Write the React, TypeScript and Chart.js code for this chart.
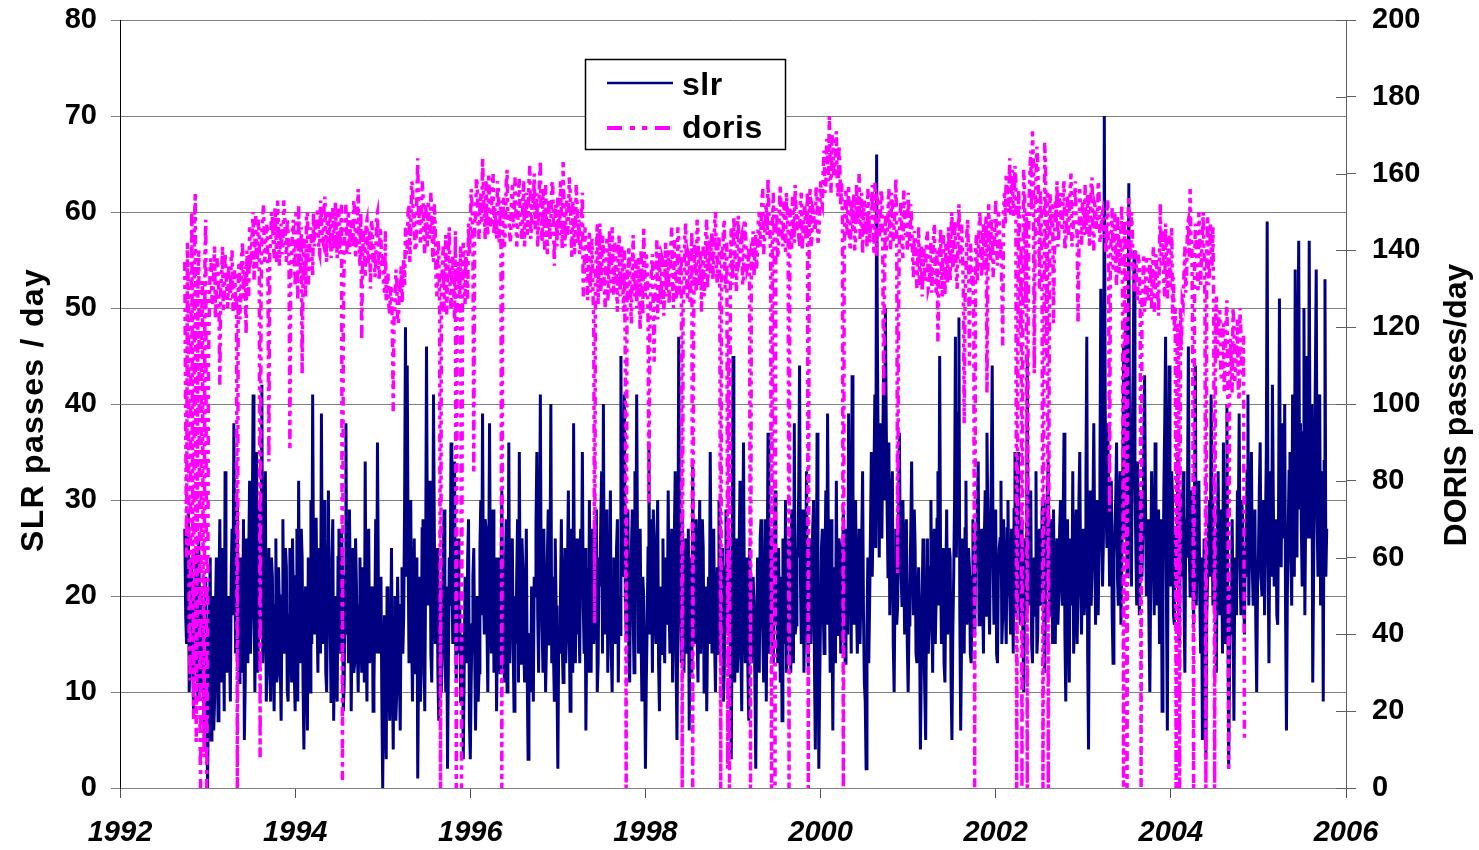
import { useEffect, useRef } from 'react';
import { Chart, registerables } from 'chart.js';

Chart.register(...registerables);

// Sampling of the series (decimal years). "Mid" arrays hold the samples taken half a step later.
const sampleStartYear = 1992.74;
const sampleStepYears = 0.02;

// SLR passes per day (left axis)
const slrPasses = [
  27, 15, 29, 13, 24, 8, 21, 14, 26, 10, 19, 6, 22, 0, 17, 5, 20, 9, 24, 7, 28, 11, 19, 33, 12,
  20, 9, 27, 38, 14, 30, 11, 24, 16, 5, 26, 13, 32, 18, 41, 10, 35, 15, 28, 42, 17, 33, 12, 25, 9,
  22, 8, 26, 12, 19, 7, 28, 14, 23, 9, 25, 11, 20, 8, 27, 32, 13, 24, 4, 21, 6, 18, 30, 41, 16,
  28, 12, 22, 39, 15, 26, 10, 31, 17, 24, 7, 20, 9, 27, 14, 23, 11, 38, 19, 29, 8, 25, 13, 21, 10,
  24, 12, 19, 34, 9, 27, 15, 21, 11, 28, 36, 14, 22, 0, 18, 3, 16, 7, 25, 4, 20, 10, 17, 6, 23,
  18, 48, 44, 13, 30, 9, 26, 16, 1, 22, 12, 28, 8, 46, 19, 32, 11, 41, 15, 25, 7, 21, 14, 29, 10,
  2, 24, 36, 15, 34, 11, 26, 19, 9, 3, 22, 13, 28, 3, 17, 25, 6, 20, 12, 30, 39, 16, 27, 10, 38,
  14, 29, 18, 8, 24, 12, 31, 17, 22, 10, 36, 19, 26, 8, 15, 28, 35, 13, 23, 11, 27, 3, 16, 21, 9,
  20, 35, 12, 41, 17, 27, 10, 24, 15, 40, 22, 9, 19, 2, 14, 28, 11, 25, 16, 31, 8, 21, 38, 13, 26,
  18, 27, 35, 14, 6, 23, 30, 12, 25, 17, 29, 13, 21, 33, 40, 16, 27, 19, 31, 10, 24, 15, 28, 20, 45,
  22, 41, 16, 29, 11, 25, 18, 33, 41, 14, 27, 9, 20, 2, 17, 36, 28, 12, 24, 15, 30, 8, 19, 26, 13,
  23, 31, 14, 27, 18, 33, 5, 47, 20, 29, 12, 26, 17, 6, 24, 34, 15, 28, 11, 30, 19, 25, 13, 8, 22,
  35, 14, 27, 10, 23, 30, 16, 25, 12, 29, 18, 21, 3, 45, 11, 26, 15, 32, 8, 36, 13, 24, 7, 20, 17,
  19, 2, 24, 12, 28, 16, 22, 9, 37, 18, 27, 13, 31, 20, 25, 11, 7, 23, 30, 15, 26, 12, 21, 38, 17,
  24, 44, 15, 29, 19, 33, 12, 26, 21, 30, 4, 37, 2, 18, 27, 14, 31, 39, 20, 28, 6, 23, 32, 16, 25,
  18, 29, 13, 25, 39, 22, 43, 17, 30, 14, 27, 20, 33, 11, 2, 24, 19, 35, 28, 41, 66, 32, 38, 26, 44,
  50, 29, 36, 24, 33, 10, 27, 19, 37, 22, 30, 16, 28, 10, 21, 34, 18, 25, 13, 23, 4, 20, 15, 5, 26,
  17, 30, 12, 27, 20, 33, 45, 15, 25, 11, 29, 18, 24, 5, 22, 47, 31, 49, 6, 26, 14, 32, 19, 23, 13,
  28, 16, 24, 34, 19, 27, 14, 31, 37, 21, 26, 44, 17, 29, 13, 25, 32, 18, 23, 15, 30, 20, 27, 14, 35,
  22, 35, 17, 28, 10, 26, 45, 19, 31, 13, 24, 33, 16, 27, 21, 30, 12, 25, 34, 18, 23, 29, 15, 26, 20,
  30, 19, 37, 9, 28, 11, 24, 33, 18, 29, 22, 35, 16, 27, 20, 47, 4, 31, 23, 38, 17, 30, 25, 52, 21,
  70, 29, 38, 21, 32, 13, 27, 36, 19, 33, 24, 46, 49, 22, 63, 30, 37, 56, 25, 34, 18, 31, 27, 43, 20,
  28, 10, 33, 24, 36, 19, 29, 22, 8, 31, 47, 6, 44, 21, 30, 17, 27, 35, 15, 26, 33, 12, 24, 46, 20,
  29, 17, 44, 25, 32, 14, 5, 26, 3, 22, 30, 41, 19, 27, 12, 33, 18, 24, 36, 15, 40, 2, 21, 28, 7,
  24, 31, 39, 18, 28, 16, 22, 41, 26, 35, 19, 29, 10, 24, 36, 20, 30, 27, 59, 13, 33, 42, 21, 28, 17,
  51, 23, 32, 40, 6, 27, 35, 19, 30, 54, 24, 57, 38, 21, 50, 29, 44, 57, 26, 11, 34, 54, 22, 41, 28,
  9, 53, 27,
];

const slrPassesMid = [
  18, 22, 10, 20, 14, 17, 25, 9, 16, 21, 12, 15, 7, 11, 24, 13, 6, 18, 14, 21, 16, 25, 8, 20, 17,
  15, 22, 18, 25, 21, 16, 19, 12, 28, 11, 20, 24, 14, 27, 23, 19, 12, 29, 17, 13, 26, 9, 21, 14, 24,
  14, 19, 11, 23, 13, 20, 17, 25, 10, 18, 15, 26, 12, 22, 9, 16, 27, 11, 19, 13, 24, 10, 15, 22, 28,
  18, 25, 14, 21, 30, 12, 19, 16, 9, 28, 15, 11, 24, 19, 27, 8, 22, 16, 13, 21, 17, 12, 26, 15, 19,
  17, 23, 11, 15, 26, 13, 20, 8, 18, 14, 22, 17, 9, 12, 8, 21, 11, 14, 12, 17, 7, 22, 12, 19, 14,
  30, 22, 25, 19, 16, 20, 12, 24, 14, 9, 27, 17, 22, 25, 30, 14, 21, 26, 20, 12, 18, 10, 23, 16, 21,
  13, 19, 22, 27, 17, 20, 14, 9, 16, 12, 18, 24, 7, 11, 22, 14, 13, 9, 25, 18, 21, 28, 17, 22, 20,
  21, 12, 24, 17, 15, 21, 19, 11, 28, 16, 13, 21, 14, 20, 22, 11, 18, 26, 15, 19, 12, 16, 10, 14, 22,
  27, 18, 23, 21, 12, 19, 15, 29, 22, 13, 14, 26, 11, 16, 20, 15, 19, 13, 23, 17, 27, 12, 18, 25, 16,
  13, 21, 19, 25, 16, 12, 18, 27, 15, 21, 10, 24, 28, 14, 19, 29, 12, 22, 14, 20, 17, 25, 11, 16, 23,
  30, 20, 23, 14, 21, 29, 12, 20, 24, 19, 16, 22, 14, 11, 25, 16, 21, 29, 18, 26, 13, 21, 14, 17, 24,
  17, 19, 23, 11, 26, 13, 18, 24, 13, 16, 21, 14, 27, 20, 12, 19, 25, 16, 23, 14, 28, 10, 21, 17, 15,
  22, 20, 15, 19, 14, 18, 21, 9, 23, 16, 27, 13, 17, 21, 19, 12, 25, 14, 24, 19, 17, 12, 25, 13, 22,
  11, 15, 18, 26, 20, 11, 28, 21, 14, 23, 16, 24, 17, 13, 18, 22, 26, 15, 12, 24, 19, 29, 13, 16, 25,
  31, 22, 26, 12, 24, 17, 22, 15, 27, 13, 16, 20, 11, 25, 19, 23, 17, 24, 12, 18, 21, 13, 19, 26, 14,
  23, 20, 27, 16, 28, 14, 31, 24, 19, 21, 15, 26, 18, 9, 17, 13, 27, 22, 33, 25, 45, 24, 29, 36, 30,
  38, 22, 18, 30, 15, 21, 17, 28, 25, 19, 23, 26, 15, 17, 27, 22, 29, 14, 20, 17, 12, 26, 10, 19, 14,
  23, 18, 26, 15, 28, 19, 24, 20, 13, 21, 16, 25, 11, 16, 30, 24, 39, 18, 15, 21, 27, 17, 25, 14, 22,
  19, 23, 29, 17, 25, 20, 26, 18, 28, 16, 33, 24, 27, 14, 22, 26, 15, 28, 19, 27, 21, 16, 24, 29, 18,
  29, 20, 24, 16, 21, 18, 27, 25, 15, 22, 18, 14, 26, 19, 29, 17, 22, 31, 20, 28, 15, 19, 24, 17, 27,
  22, 28, 16, 23, 18, 26, 19, 14, 27, 15, 30, 21, 25, 18, 32, 14, 23, 19, 29, 26, 24, 18, 33, 28, 26,
  40, 25, 30, 27, 18, 24, 30, 22, 28, 17, 31, 26, 35, 41, 28, 21, 44, 32, 19, 27, 24, 22, 35, 30, 25,
  17, 22, 27, 18, 30, 25, 15, 28, 20, 38, 19, 29, 24, 33, 18, 26, 21, 16, 31, 22, 19, 28, 30, 25, 31,
  22, 31, 19, 28, 20, 24, 16, 12, 18, 27, 22, 30, 24, 17, 26, 21, 29, 14, 25, 31, 20, 12, 16, 19, 23,
  18, 27, 23, 30, 21, 25, 33, 19, 29, 23, 27, 17, 21, 31, 22, 26, 18, 35, 24, 28, 22, 30, 25, 18, 29,
  30, 38, 26, 18, 20, 33, 24, 41, 22, 35, 43, 29, 27, 37, 18, 45, 26, 32, 40, 22, 43, 28, 36, 19, 33,
  34, 22,
];

// DORIS passes per day (right axis)
const dorisPasses = [
  137, 60, 128, 28, 150, 18, 155, 45, 140, 0, 132, 8, 148, 30, 125, 138, 126, 141, 129, 135, 105, 133, 124, 139, 130,
  136, 127, 140, 130, 125, 0, 137, 129, 142, 133, 118, 131, 146, 138, 150, 141, 135, 148, 8, 144, 152, 139, 147, 85, 142,
  149, 138, 145, 153, 136, 147, 141, 150, 137, 144, 88, 139, 148, 131, 145, 152, 134, 108, 143, 128, 150, 137, 146, 133, 141,
  144, 151, 139, 148, 142, 154, 137, 147, 150, 141, 146, 153, 138, 149, 143, 2, 140, 152, 145, 139, 148, 141, 150, 144, 156,
  136, 117, 145, 133, 148, 139, 130, 146, 141, 135, 150, 132, 143, 138, 129, 127, 134, 123, 131, 98, 125, 133, 121, 129, 126,
  138, 146, 141, 152, 144, 157, 149, 140, 164, 151, 145, 155, 139, 148, 153, 143, 150, 137, 146, 128, 140, 0, 135, 124, 144,
  131, 146, 125, 139, 122, 0, 137, 128, 0, 142, 126, 134, 147, 145, 152, 82, 148, 157, 143, 155, 164, 149, 158, 144, 153,
  147, 160, 151, 143, 156, 149, 0, 154, 145, 161, 150, 142, 157, 148, 153, 144, 159, 146, 152, 141, 155, 149, 162, 147, 151,
  145, 155, 148, 163, 142, 152, 157, 139, 150, 146, 158, 136, 151, 154, 144, 149, 163, 141, 153, 147, 156, 138, 150, 145, 152,
  148, 141, 155, 133, 142, 127, 145, 136, 130, 43, 139, 126, 147, 134, 140, 125, 143, 131, 137, 146, 128, 138, 124, 144, 135,
  132, 140, 0, 127, 136, 121, 144, 130, 125, 138, 119, 133, 146, 128, 135, 74, 129, 139, 111, 134, 122, 141, 126, 137, 131,
  128, 140, 134, 146, 125, 139, 131, 143, 136, 0, 130, 147, 127, 138, 133, 0, 142, 129, 145, 135, 124, 141, 132, 148, 137,
  134, 145, 139, 150, 131, 143, 0, 137, 148, 133, 5, 0, 146, 136, 142, 129, 149, 138, 144, 132, 147, 135, 141, 0, 138,
  133, 144, 140, 150, 146, 156, 143, 152, 159, 147, 0, 155, 0, 149, 141, 157, 145, 153, 139, 150, 0, 146, 154, 142, 151,
  149, 141, 155, 145, 152, 147, 0, 156, 143, 150, 146, 154, 144, 158, 152, 166, 157, 163, 175, 155, 168, 160, 171, 154, 162,
  158, 0, 152, 144, 157, 140, 149, 155, 143, 151, 160, 146, 139, 153, 148, 156, 142, 150, 145, 158, 138, 152, 147, 154, 102,
  149, 143, 156, 140, 152, 146, 159, 56, 144, 153, 138, 150, 147, 155, 141, 148, 133, 143, 130, 146, 136, 128, 141, 134, 145,
  131, 142, 135, 147, 129, 116, 139, 133, 144, 128, 137, 146, 132, 150, 138, 143, 130, 152, 136, 141, 95, 134, 148, 110, 139,
  135, 0, 144, 138, 150, 133, 147, 141, 103, 152, 137, 145, 139, 153, 136, 148, 142, 115, 155, 160, 150, 164, 157, 149, 162,
  0, 156, 118, 0, 161, 125, 0, 152, 166, 171, 108, 159, 163, 130, 150, 0, 168, 112, 0, 155, 146, 121, 153, 158, 144,
  151, 145, 158, 142, 154, 149, 160, 143, 152, 147, 121, 156, 141, 150, 157, 144, 153, 148, 159, 140, 151, 146, 155, 143, 150,
  147, 139, 153, 72, 144, 135, 150, 131, 146, 138, 152, 0, 141, 0, 154, 136, 145, 129, 140, 127, 136, 0, 132, 124, 138,
  130, 138, 125, 141, 128, 135, 123, 152, 140, 131, 147, 127, 144, 136, 122, 119, 0, 121, 0, 114, 126, 141, 133, 148, 156,
  142, 0, 147, 135, 150, 131, 144, 138, 0, 149, 133, 141, 146, 0, 128, 118, 124, 106, 121, 112, 127, 5, 117, 103, 120,
  109, 122, 101, 118, 107, 13,
];

const dorisPassesMid = [
  95, 142, 40, 118, 70, 147, 12, 133, 25, 120, 50, 139, 0, 110, 136, 128, 134, 122, 138, 127, 131, 141, 128, 134, 125,
  131, 138, 124, 135, 128, 133, 122, 139, 127, 136, 140, 128, 137, 145, 132, 149, 139, 144, 126, 149, 137, 145, 133, 140, 150,
  142, 151, 137, 146, 142, 139, 153, 143, 148, 138, 135, 146, 137, 150, 127, 140, 146, 132, 137, 149, 131, 144, 139, 150, 148,
  149, 140, 153, 143, 151, 145, 150, 142, 138, 151, 140, 144, 151, 139, 152, 120, 147, 139, 150, 146, 142, 153, 138, 149, 143,
  150, 138, 139, 147, 136, 145, 148, 137, 133, 149, 138, 146, 136, 131, 145, 132, 126, 130, 120, 124, 135, 122, 131, 136, 132,
  131, 139, 150, 137, 158, 146, 140, 155, 147, 142, 158, 144, 152, 141, 147, 155, 139, 152, 131, 143, 126, 130, 141, 132, 123,
  140, 128, 134, 130, 145, 124, 132, 141, 125, 133, 140, 127, 139, 156, 141, 150, 159, 146, 151, 147, 156, 143, 148, 160, 146,
  156, 144, 148, 158, 142, 153, 147, 141, 157, 148, 144, 153, 146, 159, 141, 154, 148, 143, 158, 149, 144, 158, 143, 155, 160,
  150, 141, 158, 147, 156, 140, 148, 153, 143, 157, 147, 152, 141, 146, 158, 140, 152, 148, 144, 159, 146, 153, 139, 157, 142,
  139, 150, 128, 146, 135, 139, 129, 143, 121, 134, 147, 137, 129, 144, 131, 138, 127, 145, 129, 135, 142, 131, 140, 128, 141,
  124, 110, 135, 141, 126, 136, 128, 138, 133, 126, 140, 123, 136, 139, 122, 118, 136, 124, 130, 143, 132, 127, 138, 123, 142,
  137, 126, 141, 131, 143, 127, 146, 128, 140, 124, 144, 133, 139, 126, 145, 118, 134, 148, 131, 140, 136, 128, 145, 130, 143,
  141, 132, 147, 136, 144, 129, 140, 145, 130, 142, 118, 138, 131, 149, 133, 146, 137, 143, 131, 148, 140, 136, 130, 139, 145,
  140, 135, 148, 141, 153, 139, 149, 144, 150, 139, 146, 143, 151, 138, 152, 147, 141, 149, 155, 144, 151, 140, 148, 157, 145,
  144, 153, 140, 150, 143, 155, 148, 141, 151, 145, 157, 142, 150, 153, 161, 155, 169, 158, 162, 170, 159, 165, 157, 167, 152,
  148, 141, 156, 149, 143, 153, 145, 140, 157, 147, 143, 155, 150, 145, 141, 151, 147, 157, 139, 148, 153, 143, 156, 141, 130,
  140, 150, 145, 155, 142, 151, 143, 120, 150, 141, 156, 144, 140, 148, 152, 139, 145, 137, 139, 131, 141, 135, 132, 143, 130,
  137, 129, 144, 133, 140, 132, 146, 128, 137, 142, 131, 140, 145, 135, 148, 133, 144, 139, 147, 130, 128, 144, 137, 142, 131,
  122, 140, 132, 146, 138, 143, 135, 149, 132, 140, 148, 133, 146, 141, 150, 138, 130, 150, 147, 157, 154, 149, 161, 153, 158,
  95, 150, 140, 130, 155, 150, 120, 160, 149, 163, 140, 167, 151, 156, 125, 100, 160, 155, 105, 148, 152, 139, 147, 141, 155,
  147, 155, 140, 150, 144, 156, 141, 150, 158, 144, 139, 147, 153, 144, 148, 155, 141, 157, 143, 152, 146, 158, 142, 149, 145,
  143, 150, 129, 138, 151, 142, 137, 149, 134, 145, 120, 148, 110, 148, 140, 150, 133, 138, 130, 139, 125, 128, 139, 130, 127,
  127, 133, 136, 124, 139, 130, 140, 136, 145, 128, 137, 141, 130, 146, 133, 125, 112, 110, 125, 127, 134, 129, 147, 138, 143,
  110, 135, 140, 129, 145, 138, 150, 126, 140, 131, 147, 136, 125, 120, 112, 124, 109, 117, 103, 122, 108, 100, 111, 125, 106,
  115, 104, 125, 110, 118,
];

const yearTicks = [1992, 1994, 1996, 1998, 2000, 2002, 2004, 2006];
const slrTicks = [0, 10, 20, 30, 40, 50, 60, 70, 80];
const dorisTicks = [0, 20, 40, 60, 80, 100, 120, 140, 160, 180, 200];
const seriesNames = ['slr', 'doris'];
const axisTitles = ['SLR passes / day', 'DORIS passes/day'];

const FONT = "'Liberation Sans', Arial, Helvetica, sans-serif";
const SLR_COLOR = '#000080';
const DORIS_COLOR = '#FF00FF';
const DORIS_DASH = [15, 8, 5, 7, 5, 8];
const DORIS_DATA_DASH = [9, 5, 4, 5, 4, 5];

// Merge the on-step samples and the half-step samples into one time-ordered list of points.
const toPoints = (values: number[], midValues: number[]) => {
  const pts: { x: number; y: number }[] = [];
  values.forEach((v, i) => {
    const t = sampleStartYear + i * sampleStepYears;
    pts.push({ x: t, y: v });
    if (i < midValues.length) pts.push({ x: t + sampleStepYears / 2, y: midValues[i] });
  });
  return pts;
};

const overlayPlugin = {
  id: 'overlay',
  afterDraw(chart: any) {
    const ctx = chart.ctx as CanvasRenderingContext2D;
    const yR = chart.scales.yR;
    const area = chart.chartArea;
    ctx.save();

    // inward tick marks of the right axis
    ctx.strokeStyle = '#606060';
    ctx.lineWidth = 1;
    ctx.setLineDash([]);
    for (const t of dorisTicks) {
      const y = Math.round(yR.getPixelForValue(t)) + 0.5;
      ctx.beginPath();
      ctx.moveTo(area.right - 10, y);
      ctx.lineTo(area.right, y);
      ctx.stroke();
    }

    // axis titles
    ctx.fillStyle = '#000';
    ctx.textAlign = 'center';
    ctx.textBaseline = 'alphabetic';
    ctx.font = `bold 32px ${FONT}`;
    (ctx as any).letterSpacing = '1.3px';
    ctx.save();
    ctx.translate(43, 410);
    ctx.rotate(-Math.PI / 2);
    ctx.fillText(axisTitles[0], 0, 0);
    ctx.restore();
    (ctx as any).letterSpacing = '0px';
    ctx.save();
    ctx.translate(1466, 405);
    ctx.rotate(-Math.PI / 2);
    ctx.fillText(axisTitles[1], 0, 0);
    ctx.restore();

    // legend
    const lx = 585.5, ly = 59.5, lw = 200, lh = 90;
    ctx.fillStyle = '#fff';
    ctx.fillRect(lx, ly, lw, lh);
    ctx.strokeStyle = '#000';
    ctx.lineWidth = 1.5;
    ctx.strokeRect(lx, ly, lw, lh);

    ctx.strokeStyle = SLR_COLOR;
    ctx.lineWidth = 2.5;
    ctx.beginPath();
    ctx.moveTo(607, 83);
    ctx.lineTo(673, 83);
    ctx.stroke();

    ctx.strokeStyle = DORIS_COLOR;
    ctx.lineWidth = 4;
    ctx.setLineDash(DORIS_DASH);
    ctx.beginPath();
    ctx.moveTo(607, 128);
    ctx.lineTo(673, 128);
    ctx.stroke();
    ctx.setLineDash([]);

    ctx.fillStyle = '#000';
    ctx.textAlign = 'left';
    ctx.font = `bold 32px ${FONT}`;
    (ctx as any).letterSpacing = '0.5px';
    ctx.fillText(seriesNames[0], 682, 95);
    ctx.fillText(seriesNames[1], 682, 138);
    (ctx as any).letterSpacing = '0px';

    ctx.restore();
  },
};

export default function App() {
  const canvasRef = useRef<HTMLCanvasElement | null>(null);

  useEffect(() => {
    if (!canvasRef.current) return;
    const tickFont = { family: FONT, size: 29, weight: 'bold' as const };
    const noVerticalPadding = (scale: any) => {
      scale.paddingTop = 0;
      scale.paddingBottom = 0;
    };
    const chart = new Chart(canvasRef.current, {
      type: 'line',
      data: {
        datasets: [
          {
            label: seriesNames[0],
            data: toPoints(slrPasses, slrPassesMid),
            borderColor: SLR_COLOR,
            backgroundColor: SLR_COLOR,
            borderWidth: 3,
            pointRadius: 0,
            tension: 0,
            yAxisID: 'y',
            order: 1,
          },
          {
            label: seriesNames[1],
            data: toPoints(dorisPasses, dorisPassesMid),
            borderColor: DORIS_COLOR,
            backgroundColor: DORIS_COLOR,
            borderWidth: 3.5,
            borderDash: DORIS_DATA_DASH,
            pointRadius: 0,
            tension: 0,
            yAxisID: 'yR',
            order: 0,
          },
        ],
      },
      options: {
        animation: false,
        responsive: false,
        devicePixelRatio: 1,
        layout: { padding: { top: 20, left: 0, right: 0, bottom: 0 } },
        plugins: {
          legend: { display: false },
          tooltip: { enabled: false },
          title: { display: false },
        },
        scales: {
          x: {
            type: 'linear',
            min: yearTicks[0],
            max: yearTicks[yearTicks.length - 1],
            afterBuildTicks: (scale: any) => {
              scale.ticks = yearTicks.map((v) => ({ value: v }));
            },
            ticks: {
              color: '#000',
              font: { ...tickFont, style: 'italic' as const },
              padding: 18,
              maxRotation: 0,
              autoSkip: false,
              callback: (v: any) => String(v),
            },
            grid: { drawOnChartArea: false, drawTicks: true, tickLength: 10, color: '#505050' },
            border: { display: true, color: '#808080', width: 1 },
            afterFit: (scale: any) => {
              scale.height = 62;
            },
          },
          y: {
            type: 'linear',
            position: 'left',
            min: slrTicks[0],
            max: slrTicks[slrTicks.length - 1],
            afterBuildTicks: (scale: any) => {
              scale.ticks = slrTicks.map((v) => ({ value: v }));
            },
            ticks: { color: '#000', font: tickFont, padding: 14, callback: (v: any) => String(v) },
            grid: { color: '#808080', lineWidth: 1, tickLength: 9, drawTicks: true },
            border: { display: true, color: '#000', width: 1 },
            afterFit: (scale: any) => {
              scale.width = 120;
              noVerticalPadding(scale);
            },
          },
          yR: {
            type: 'linear',
            position: 'right',
            min: dorisTicks[0],
            max: dorisTicks[dorisTicks.length - 1],
            afterBuildTicks: (scale: any) => {
              scale.ticks = dorisTicks.map((v) => ({ value: v }));
            },
            ticks: { color: '#000', font: tickFont, padding: 16, callback: (v: any) => String(v) },
            grid: { drawOnChartArea: false, drawTicks: true, tickLength: 10, color: '#606060' },
            border: { display: true, color: '#606060', width: 1 },
            afterFit: (scale: any) => {
              scale.width = 133;
              noVerticalPadding(scale);
            },
          },
        },
      },
      plugins: [overlayPlugin],
    });
    return () => chart.destroy();
  }, []);

  return (
    <div style={{ position: 'fixed', left: 0, top: 0, width: 1479, height: 850, background: '#fff' }}>
      <canvas ref={canvasRef} width={1479} height={850} style={{ width: 1479, height: 850, display: 'block' }} />
    </div>
  );
}
